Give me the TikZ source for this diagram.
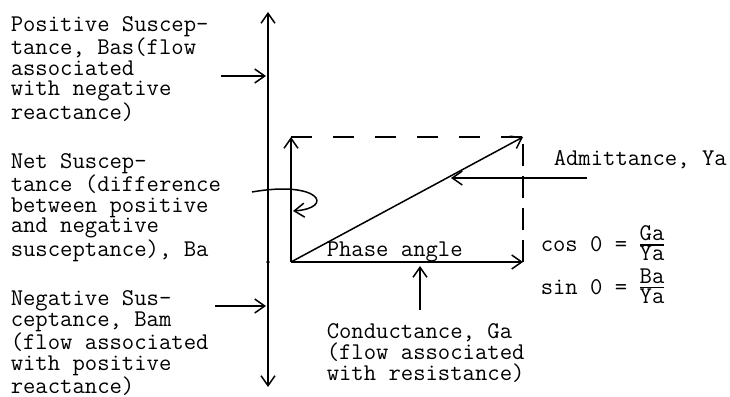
\documentclass[tikz,border=0pt]{standalone}
\usepackage{tikz}
\usetikzlibrary{arrows.meta}

\tikzset{
  lbl/.style={font=\fontsize{24}{20.8}\selectfont\ttfamily, inner sep=0pt, align=left, anchor=base west},
  dashtop/.style={dash pattern=on 21pt off 21pt},
  dashside/.style={dash pattern=on 22pt off 10pt},
}

\begin{document}
\begin{tikzpicture}[x=1pt, y=-1pt, line width=1.5pt, >={Straight Barb[length=10pt,width=14pt]}]
      \useasboundingbox (0,0) rectangle (730,396);
      % susceptance axis
      \coordinate (top) at (268,12);
      \coordinate (bot) at (268,387);
      \coordinate (zero) at (268,262);
      \draw[<->] (bot) -- (top);
      \fill (zero) circle (1.9);
      % phasor triangle
      \coordinate (O) at (291,262);
      \coordinate (B) at (291,137);
      \coordinate (G) at (523,262);
      \coordinate (Y) at (523,137);
      \draw[->] (O) -- (B);
      \draw[->] (O) -- (G);
      \draw[->] (O) -- (Y);
      \draw[dashtop] (B) -- (Y);
      \draw[dashside] (G) -- (Y);
      % left labels (anchored at the last line)
      \node[lbl] (pos) at (10,119) {Positive Suscep-\\tance, Bas(flow\\associated\\with negative\\reactance)};
      \node[lbl] (net) at (10,256) {Net Suscep-\\tance (difference\\between positive\\and negative\\susceptance), Ba};
      \node[lbl] (neg) at (10,393) {Negative Sus-\\ceptance, Bam\\(flow associated\\with positive\\reactance)};
      % right labels
      \node[lbl] (adm) at (553,165) {Admittance, Ya};
      \node[lbl] (phase) at (326,256) {Phase angle};
      \node[lbl] (cond) at (326,380) {Conductance, Ga\\(flow associated\\with resistance)};
      \renewcommand{\arraystretch}{0.6}
      \setlength{\arrayrulewidth}{1.2pt}
      \node[lbl] (cosf) at (540,251) {cos 0 = \begin{tabular}{@{}c@{}}Ga\\\hline Ya\end{tabular}};
      \node[lbl] (sinf) at (540,294) {sin 0 = \begin{tabular}{@{}c@{}}Ba\\\hline Ya\end{tabular}};
      % pointers
      \coordinate (posS) at (221,76);
      \coordinate (posE) at (266,76);
      \draw[->] (posS) -- (posE);
      \coordinate (negS) at (215,306);
      \coordinate (negE) at (266,306);
      \draw[->] (negS) -- (negE);
      \coordinate (admS) at (587,178);
      \coordinate (admE) at (451,178);
      \draw[->] (admS) -- (admE);
      \coordinate (condS) at (420,310);
      \coordinate (condE) at (420,266);
      \draw[->] (condS) -- (condE);
      \coordinate (netS) at (252,192);
      \coordinate (netE) at (293,211);
      \draw[->] (netS) .. controls (320,180) and (335,208) .. (netE);
    \end{tikzpicture}
\end{document}
